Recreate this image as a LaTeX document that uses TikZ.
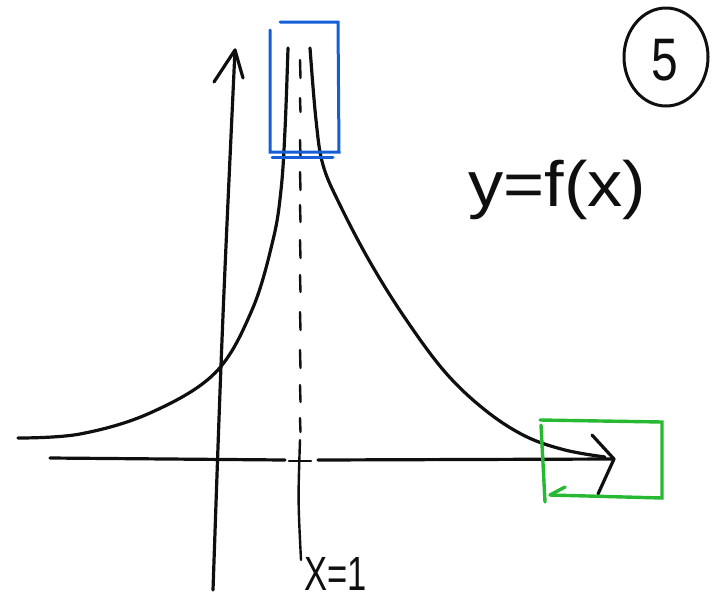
\documentclass[tikz,border=0pt]{standalone}
\usepackage{fontspec}
\setmainfont{Liberation Sans}
\usetikzlibrary{shapes.geometric}
\definecolor{penblue}{RGB}{20,95,215}
\definecolor{pengreen}{RGB}{40,185,50}
\definecolor{ink}{RGB}{15,15,15}
\begin{document}
\begin{tikzpicture}[x=1pt,y=-1pt,
  pen/.style={draw=ink,line width=3.2pt,line cap=round,line join=round},
  thinpen/.style={draw=ink,line width=2.4pt,line cap=round},
  boxblue/.style={draw=penblue,line width=3pt,line cap=round},
  boxgreen/.style={draw=pengreen,line width=3.4pt,line cap=round},
  hand/.style={text=ink,inner sep=0pt}]
\useasboundingbox (0,0) rectangle (714,603);
% y-axis
\coordinate (ybot) at (213,590);
\coordinate (ytop) at (235,50);
\draw[pen] (ybot) .. controls (222,330) .. (ytop);
\draw[pen] (214,82) -- (ytop) -- (243,78);
% x-axis
\coordinate (xl) at (50,458);
\coordinate (xgapl) at (285,460);
\coordinate (xgapr) at (318,460);
\coordinate (xr) at (614,459);
\draw[pen] (xl) -- (xgapl);
\draw[pen] (xgapr) -- (xr);
\draw[thinpen] (289,461) -- (311,461);
\draw[pen] (592,435) -- (xr) -- (598,494);
% asymptote x = 1
\draw[thinpen] (300,440) .. controls (298,500) .. (301,560);
\foreach \a/\b in {60/78,98/112,140/156,172/190,205/222,240/258,275/292,312/330,350/368,385/402,418/432}
  \draw[thinpen] (300,\a) -- (300.5,\b);
% curve
\draw[pen] plot[smooth,tension=0.6] coordinates {(18,438) (80,434) (150,413) (215,373) (252,310) (273,240) (281,190) (285,130) (288,48)};
\draw[pen] plot[smooth,tension=0.6] coordinates {(310,48) (316,120) (323,165) (340,205) (370,262) (405,318) (445,372) (485,410) (525,436) (565,450) (605,457)};
% blue box
\draw[boxblue] (270,30) -- (270,152) -- (339,152) -- (338,22) -- (280,22);
\draw[boxblue] (272,157) -- (333,157);
% green box
\draw[boxgreen] (540,420) -- (662,422) -- (662,498) -- (550,495);
\draw[boxgreen] (541,425) -- (545,502);
\draw[boxgreen] (550,495) -- (565,487);
% label 5
\node[draw=ink,line width=3pt,ellipse,minimum width=84pt,minimum height=98pt,inner sep=0pt] (five) at (666,57) {};
\node[hand,font=\fontsize{60}{60}\selectfont,xscale=0.8,anchor=base] (fivetxt) at (665,80) {5};
% function label
\node[hand,font=\fontsize{64}{64}\selectfont,anchor=base west,xscale=1.1] (fx) at (468,206) {y=f(x)};
% x=1 label
\node[hand,font=\fontsize{48}{48}\selectfont,xscale=0.72,anchor=base west] (x1) at (304,590) {X=1};
\end{tikzpicture}
\end{document}
